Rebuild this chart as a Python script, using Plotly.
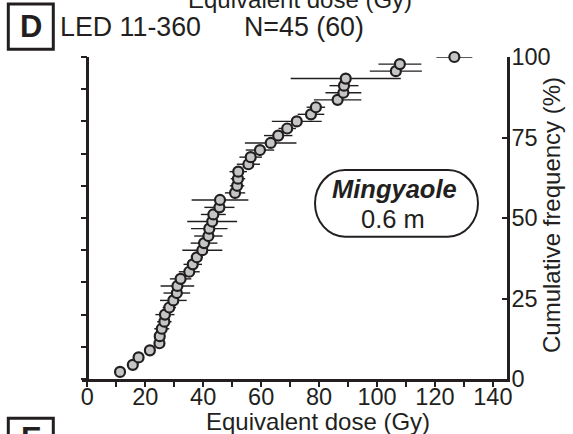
import plotly.graph_objects as go

# ---- data ----
equivalent_dose = [11.3, 15.7, 17.7, 21.6, 24.9, 25.0, 25.7, 26.6, 26.8, 28.3,
                   29.7, 30.9, 31.1, 32.2, 35.2, 36.4, 37.8, 39.7, 40.3, 41.8,
                   42.1, 43.1, 43.5, 45.6, 45.8, 51.0, 51.7, 52.0, 52.1, 55.6,
                   56.4, 59.6, 63.3, 65.9, 69.0, 72.3, 77.2, 78.9, 86.4, 88.4,
                   88.6, 89.2, 106.5, 107.9, 126.7]
dose_error = [0.0, 0.8, 0.8, 0.8, 1.5, 1.5, 2.6, 2.5, 3.3, 2.3,
              4.6, 4.6, 5.8, 3.7, 3.6, 3.2, 2.0, 6.9, 4.6, 4.9,
              6.3, 8.6, 4.3, 5.2, 9.8, 3.5, 2.5, 2.5, 3.0, 4.0,
              3.9, 4.9, 8.9, 4.9, 3.0, 8.6, 4.6, 3.2, 8.2, 6.2,
              5.0, 19.0, 9.0, 7.4, 6.2]
cumulative_freq = [2.2, 4.4, 6.7, 8.9, 11.1, 13.3, 15.6, 17.8, 20.0, 22.2,
                   24.4, 26.7, 28.9, 31.1, 33.3, 35.6, 37.8, 40.0, 42.2, 44.4,
                   46.7, 48.9, 51.1, 53.3, 55.6, 57.8, 60.0, 62.2, 64.4, 66.7,
                   68.9, 71.1, 73.3, 75.6, 77.8, 80.0, 82.2, 84.4, 86.7, 88.9,
                   91.1, 93.3, 95.6, 97.8, 100.0]
x_tick_vals = [0, 10, 20, 30, 40, 50, 60, 70, 80, 90, 100, 110, 120, 130, 140]
x_tick_text = ["0", "", "20", "", "40", "", "60", "", "80", "", "100", "", "120", "", "140"]
y_left_ticks = [0, 10, 20, 30, 40, 50, 60, 70, 80, 90, 100]
y_right_ticks = [0, 25, 50, 75, 100]
y_right_text = ["0", "25", "50", "75", "100"]

# ---- layout geometry ----
W, H = 573, 434
L, R, T, B = 82, 66, 57, 55
PW, PH = W - L - R, H - T - B
XMIN, XMAX = -1.83, 144.87
INK = "#231f20"
FONT = "Arial, Liberation Sans, sans-serif"
TICK_SIZE = 23.5


def px(x):
    return (x - L) / PW


def py(y):
    return (H - B - y) / PH


fig = go.Figure()
fig.add_trace(go.Scatter(
    x=equivalent_dose, y=cumulative_freq, mode="markers",
    marker=dict(size=10, color="#c4c5c7", line=dict(color=INK, width=2.2)),
    error_x=dict(type="data", array=dose_error, visible=True, color=INK,
                 thickness=1.4, width=0),
    cliponaxis=False, showlegend=False,
))
# invisible trace to activate right axis
fig.add_trace(go.Scatter(x=[None], y=[None], yaxis="y2", showlegend=False))

fig.update_layout(
    width=W, height=H, margin=dict(l=L, r=R, t=T, b=B, pad=0),
    paper_bgcolor="white", plot_bgcolor="white",
    font=dict(family=FONT, color=INK, size=TICK_SIZE),
    xaxis=dict(range=[XMIN, XMAX], showgrid=False, zeroline=False,
               showline=True, linecolor=INK, linewidth=2.5,
               ticks="outside", ticklen=5, tickwidth=2, tickcolor=INK,
               tickvals=x_tick_vals, ticktext=x_tick_text,
               tickfont=dict(size=TICK_SIZE, color=INK), ticklabelstandoff=-10),
    yaxis=dict(range=[0, 100], showgrid=False, zeroline=False,
               anchor="free", position=(0 - XMIN) / (XMAX - XMIN),
               showline=True, linecolor=INK, linewidth=2.5,
               ticks="outside", ticklen=6, tickwidth=2, tickcolor=INK,
               tickvals=y_left_ticks, showticklabels=False),
    yaxis2=dict(range=[0, 100], overlaying="y", side="right", anchor="x",
                showgrid=False, zeroline=False,
                showline=True, linecolor=INK, linewidth=2.5,
                ticks="inside", ticklen=5, tickwidth=2, tickcolor=INK,
                tickvals=y_right_ticks, ticktext=y_right_text,
                tickfont=dict(size=TICK_SIZE, color=INK), ticklabelstandoff=-3),
)

ann = []


def add_text(text, x, y, size, xanchor="center", bold=False, italic=False, angle=0):
    t = text
    if bold:
        t = "<b>" + t + "</b>"
    if italic:
        t = "<i>" + t + "</i>"
    ann.append(dict(text=t, x=px(x), y=py(y), xref="paper", yref="paper",
                    xanchor=xanchor, yanchor="middle", showarrow=False,
                    textangle=angle, borderpad=0,
                    font=dict(family=FONT, size=size, color=INK)))


add_text("Equivalent dose (Gy)", 300, 0, 24)
add_text("Equivalent dose (Gy)", 317.5, 421, 24)
add_text("Cumulative frequency (%)", 551, 215, 24, angle=-90)
add_text("D", 31, 26.5, 31, bold=True)
add_text("LED 11-360", 58.5, 27, 26.8, xanchor="left")
add_text("N=45 (60)", 242.5, 27, 26.8, xanchor="left")
add_text("Mingyaole", 394, 188.5, 25.5, bold=True, italic=True)
add_text("0.6 m", 392.5, 219.5, 25.5)
add_text("E", 31, 438, 31, bold=True)
fig.update_layout(annotations=ann)

# boxes
shapes = [
    dict(type="rect", xref="paper", yref="paper", x0=px(8.3), x1=px(53.3),
         y0=py(49.3), y1=py(4), line=dict(color=INK, width=3)),
    dict(type="rect", xref="paper", yref="paper", x0=px(8.3), x1=px(53.3),
         y0=py(470), y1=py(418.3), line=dict(color=INK, width=3)),
]
bx0, bx1, by0, by1 = 315, 478, 170, 236.7
rx, ry = 30, (by1 - by0) / 2
k = 0.5523
ym = (by0 + by1) / 2
pts = [
    ("M", [(bx0 + rx, by0)]),
    ("L", [(bx1 - rx, by0)]),
    ("C", [(bx1 - rx + k * rx, by0), (bx1, ym - k * ry), (bx1, ym)]),
    ("C", [(bx1, ym + k * ry), (bx1 - rx + k * rx, by1), (bx1 - rx, by1)]),
    ("L", [(bx0 + rx, by1)]),
    ("C", [(bx0 + rx - k * rx, by1), (bx0, ym + k * ry), (bx0, ym)]),
    ("C", [(bx0, ym - k * ry), (bx0 + rx - k * rx, by0), (bx0 + rx, by0)]),
]
path = ""
for cmd, pl in pts:
    path += cmd + " " + " ".join(f"{px(a):.5f},{py(b):.5f}" for a, b in pl) + " "
path += "Z"
shapes.append(dict(type="path", xref="paper", yref="paper", path=path,
                   line=dict(color=INK, width=2), fillcolor="rgba(0,0,0,0)"))
fig.update_layout(shapes=shapes)

fig.write_html("out.html")
